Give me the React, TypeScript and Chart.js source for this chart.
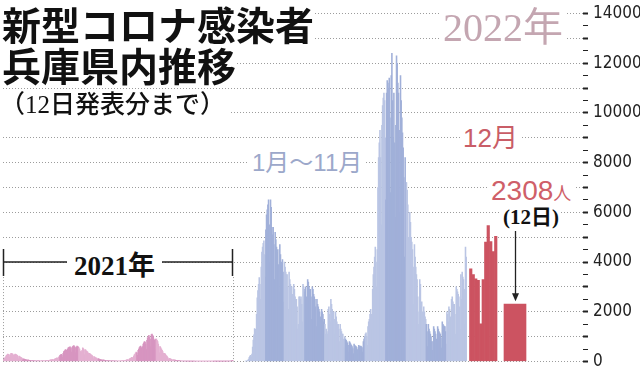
import React, { useEffect, useRef } from "react";
import { Chart, registerables } from "chart.js";

Chart.register(...registerables);

// ---- Data (daily new cases, Hyogo) ----
// 2021, one array per month (Jan..Dec)
const cases2021: number[][] = [
  [110, 150, 140, 100, 200, 250, 270, 300, 290, 280, 180, 250, 320, 330, 310, 300, 260, 150, 280, 300, 290, 270, 250, 200, 110, 220, 200, 180, 170, 150, 120],
  [60, 110, 100, 90, 80, 80, 60, 30, 70, 60, 50, 45, 45, 40, 20, 40, 35, 30, 30, 28, 25, 15, 20, 30, 30, 28, 25, 20],
  [15, 30, 35, 30, 35, 30, 25, 15, 40, 45, 50, 45, 50, 40, 30, 60, 65, 70, 70, 80, 75, 45, 90, 110, 120, 130, 150, 140, 90, 180, 200],
  [250, 270, 290, 260, 180, 330, 400, 420, 460, 480, 450, 300, 500, 550, 560, 580, 590, 520, 380, 560, 600, 620, 640, 600, 560, 360, 580, 620, 600, 580],
  [550, 500, 380, 420, 400, 450, 550, 520, 470, 280, 480, 460, 420, 400, 380, 330, 180, 330, 300, 280, 260, 240, 200, 110, 200, 180, 160, 150, 140, 110, 60],
  [120, 100, 90, 80, 80, 60, 30, 70, 60, 55, 50, 45, 40, 20, 40, 35, 30, 30, 28, 25, 12, 25, 25, 22, 20, 22, 18, 10, 22, 20],
  [18, 20, 22, 18, 10, 25, 28, 30, 35, 40, 35, 20, 45, 50, 60, 70, 80, 70, 45, 100, 120, 130, 150, 170, 160, 110, 220, 270, 300, 350, 380],
  [350, 250, 450, 500, 560, 600, 620, 560, 350, 600, 700, 750, 800, 780, 700, 480, 850, 950, 1000, 1050, 980, 900, 600, 1080, 1100, 1050, 1000, 900, 850, 500, 900],
  [900, 850, 800, 700, 600, 350, 600, 550, 500, 450, 400, 330, 180, 330, 300, 260, 230, 200, 160, 80, 120, 130, 110, 100, 90, 70, 40, 80, 70, 60],
  [55, 45, 35, 20, 40, 35, 30, 28, 25, 20, 10, 20, 18, 16, 15, 14, 10, 5, 10, 9, 8, 8, 7, 5, 3, 6, 5, 5, 4, 4, 3],
  [2, 4, 3, 3, 3, 2, 2, 1, 3, 2, 3, 2, 2, 1, 1, 2, 3, 2, 2, 1, 1, 1, 2, 2, 3, 2, 2, 1, 1, 3],
  [2, 3, 2, 2, 1, 1, 3, 2, 3, 2, 3, 2, 1, 3, 4, 3, 4, 5, 3, 2, 6, 8, 10, 12, 14, 10, 8, 20, 30, 40, 50],
];

// 2022 January..November, one array per month
const cases2022: number[][] = [
  [14, 12, 13, 30, 55, 100, 165, 220, 250, 190, 300, 580, 860, 1070, 1320, 1290, 1050, 1900, 2560, 2850, 3100, 3380, 3100, 2500, 3800, 4400, 4600, 4750, 4850, 4300, 3400],
  [5300, 5900, 6100, 6300, 6500, 5500, 4000, 6500, 6200, 5400, 5100, 5400, 4700, 3300, 5200, 4900, 4600, 4400, 4500, 3900, 2800, 4700, 4300, 3900, 4000, 4100, 3600, 2400],
  [4000, 3800, 3600, 3500, 3500, 3000, 2100, 3600, 3300, 3100, 3000, 3000, 2700, 1800, 3100, 2900, 2600, 2500, 2500, 2200, 1300, 1500, 2600, 2600, 2500, 2600, 2300, 1600, 3100, 3000, 2800],
  [2900, 3000, 2600, 1800, 3300, 3200, 3000, 2900, 2900, 2600, 1700, 3000, 2900, 2700, 2600, 2500, 2200, 1400, 2500, 2300, 2200, 2100, 2000, 1800, 1100, 2100, 2000, 1900, 1600, 1700],
  [1500, 1100, 1300, 1200, 1100, 2100, 2200, 1900, 1600, 2500, 2300, 2100, 2000, 2000, 1700, 1100, 2000, 1800, 1600, 1500, 1500, 1300, 800, 1500, 1300, 1200, 1100, 1100, 900, 550, 1000],
  [900, 850, 800, 750, 650, 380, 800, 750, 700, 650, 600, 520, 320, 700, 650, 620, 600, 560, 480, 300, 650, 620, 600, 620, 600, 560, 380, 800, 900, 1000],
  [1100, 1150, 1000, 650, 1400, 1600, 1700, 1900, 2100, 1900, 1300, 2900, 3500, 3800, 4200, 4600, 4000, 3000, 4500, 7000, 8200, 8800, 9300, 8200, 5500, 9500, 10300, 10600, 10800, 10500, 9000],
  [6500, 10800, 11300, 11200, 11000, 11400, 9800, 6800, 11500, 12400, 10500, 9000, 10800, 8800, 5800, 9500, 12300, 12000, 11200, 10800, 9300, 6000, 11500, 10500, 9800, 9200, 8600, 7400, 4200, 8200, 7200],
  [7200, 6900, 6300, 5000, 3000, 6000, 5600, 5000, 4800, 4500, 3800, 2300, 4700, 4200, 3800, 3500, 3300, 2600, 1500, 2000, 3300, 3100, 2200, 2400, 2000, 1100, 2200, 2000, 1800, 1700],
  [1500, 1200, 600, 1500, 1300, 1200, 1100, 1000, 800, 450, 800, 1400, 1300, 1200, 1100, 900, 500, 1400, 1300, 1200, 1150, 1100, 950, 550, 1600, 1500, 1450, 1400, 1400, 1200, 700],
  [2000, 1900, 1600, 2200, 2100, 1800, 900, 2500, 2600, 2400, 2300, 2300, 1900, 1100, 3000, 2900, 2800, 2700, 2600, 2200, 1300, 3500, 2500, 3600, 3400, 3300, 2900, 1500, 4600, 4200],
];

// December 2022, 1st..11th
const casesDec2022: number[] = [3730, 3500, 3330, 3270, 1520, 3300, 4800, 5470, 4820, 4420, 5040];
// December 12th (highlighted)
const casesDec12: number[] = [2308];

const yMin = 0;
const yMax = 14000;
const yStep = 500;
const yLabelStep = 2000;
const yGridStep = 1000;

// ---- Style ----
const PINK = ["#e4b0d1", "#d795c0"];
const BLUE = ["#bac5e4", "#a1b0d9"];
const RED = "#cc5361";
const GRID = "#9c9c9c";

const PLOT_LEFT = 3;
const PLOT_RIGHT = 583;

// linear-axis window so that `count` bars occupy [startPx, endPx]
function axisWindow(count: number, startPx: number, endPx: number) {
  const unit = (endPx - startPx) / count;
  const min = -0.5 - (startPx - PLOT_LEFT) / unit;
  const max = min + (PLOT_RIGHT - PLOT_LEFT) / unit;
  return { min, max, unit };
}

const win21 = axisWindow(365, 3, 233);
const win22 = axisWindow(334, 245, 466.5);
const winDec = axisWindow(11, 469.5, 497);
const winD12 = axisWindow(1, 504, 526);

const sans = '"Liberation Sans", "Noto Sans CJK JP", sans-serif';
const jp = '"Noto Sans CJK JP", sans-serif';
const serif = '"Liberation Serif", "Noto Sans CJK JP", serif';

const annotationPlugin = {
  id: "annotations",
  afterDraw(chart: any) {
    const { ctx } = chart;
    const y = chart.scales.y;
    const x21 = chart.scales.x21;
    const xd = chart.scales.xD12;
    const n21 = cases2021.flat().length;
    const left = x21.getPixelForValue(-0.5);
    const right = x21.getPixelForValue(n21 - 0.5);
    const by = y.getPixelForValue(4000);
    const base = y.getPixelForValue(0);
    ctx.save();
    // dotted year boundaries
    ctx.strokeStyle = GRID;
    ctx.lineWidth = 1;
    ctx.setLineDash([1, 2]);
    [left, right].forEach((px: number) => {
      ctx.beginPath();
      ctx.moveTo(Math.round(px) + 0.5, by + 15);
      ctx.lineTo(Math.round(px) + 0.5, base);
      ctx.stroke();
    });
    ctx.setLineDash([]);
    // bracket
    ctx.strokeStyle = "#222";
    ctx.lineWidth = 1.5;
    ctx.beginPath();
    ctx.moveTo(left, by);
    ctx.lineTo(right, by);
    ctx.moveTo(left + 0.5, by - 13);
    ctx.lineTo(left + 0.5, by + 14);
    ctx.moveTo(right - 0.5, by - 13);
    ctx.lineTo(right - 0.5, by + 14);
    ctx.stroke();
    // arrow to Dec 12 bar
    const ax = Math.round(xd.getPixelForValue(0)) + 0.5;
    const tip = y.getPixelForValue(casesDec12[0]) - 3;
    ctx.strokeStyle = "#222";
    ctx.lineWidth = 1.3;
    ctx.beginPath();
    ctx.moveTo(ax, 231);
    ctx.lineTo(ax, tip - 5);
    ctx.stroke();
    ctx.fillStyle = "#222";
    ctx.beginPath();
    ctx.moveTo(ax - 3.5, tip - 8);
    ctx.lineTo(ax + 3.5, tip - 8);
    ctx.lineTo(ax, tip);
    ctx.closePath();
    ctx.fill();
    ctx.restore();
  },
};

const box: React.CSSProperties = {
  position: "absolute",
  whiteSpace: "nowrap",
  background: "#ffffff",
};

function hiddenX(win: { min: number; max: number }) {
  return { type: "linear", display: false, offset: false, bounds: "data", min: win.min, max: win.max, grid: { display: false, offset: false } };
}

export default function App() {
  const ref = useRef<HTMLCanvasElement | null>(null);

  useEffect(() => {
    if (!ref.current) return;
    const flat21 = cases2021.flat();
    const col21 = cases2021.flatMap((m, i) => m.map(() => PINK[i % 2]));
    const flat22 = cases2022.flat();
    const col22 = cases2022.flatMap((m, i) => m.map(() => BLUE[i % 2]));

    const chart = new Chart(ref.current, {
      type: "bar",
      data: {
        datasets: [
          {
            data: flat21.map((v, i) => ({ x: i, y: v })),
            backgroundColor: col21,
            xAxisID: "x21",
            grouped: false,
            barThickness: win21.unit + 0.25,
          },
          {
            data: flat22.map((v, i) => ({ x: i, y: v })),
            backgroundColor: col22,
            xAxisID: "x22",
            grouped: false,
            barThickness: win22.unit + 0.25,
          },
          {
            data: casesDec2022.map((v, i) => ({ x: i, y: v })),
            backgroundColor: RED,
            xAxisID: "xDec",
            grouped: false,
            barThickness: winDec.unit,
          },
          {
            data: casesDec12.map((v, i) => ({ x: i, y: v })),
            backgroundColor: RED,
            xAxisID: "xD12",
            grouped: false,
            barThickness: winD12.unit,
          },
        ] as any,
      },
      options: {
        animation: false,
        responsive: false,
        devicePixelRatio: 1,
        layout: { padding: { left: PLOT_LEFT, top: 13, bottom: 9, right: 0 } },
        plugins: { legend: { display: false }, tooltip: { enabled: false } },
        scales: {
          x21: hiddenX(win21),
          x22: hiddenX(win22),
          xDec: hiddenX(winDec),
          xD12: hiddenX(winD12),
          y: {
            position: "right",
            min: yMin,
            max: yMax,
            afterFit: (s: any) => {
              s.width = 640 - PLOT_RIGHT;
            },
            border: { display: false, dash: [1, 2] },
            grid: {
              color: (c: any) => (c.tick && c.tick.value % yGridStep === 0 ? GRID : "rgba(0,0,0,0)"),
              lineWidth: 1,
              tickColor: "#222",
              tickLength: 5,
              tickWidth: (c: any) => (c.tick && c.tick.value % yGridStep === 0 ? 2 : 1),
              tickBorderDash: [],
            },
            ticks: {
              stepSize: yStep,
              autoSkip: false,
              padding: 5,
              color: "#222",
              font: { family: '"Liberation Sans Narrow", "DejaVu Sans Condensed", sans-serif', size: 17, lineHeight: 1 },
              callback: (v: any) => (Number(v) % yLabelStep === 0 ? String(v) : ""),
            },
          },
        } as any,
      },
      plugins: [annotationPlugin],
    });
    return () => chart.destroy();
  }, []);

  return (
    <div style={{ position: "absolute", left: 0, top: 0, width: 640, height: 375, background: "#ffffff", overflow: "hidden" }}>
      <canvas ref={ref} width={640} height={375} style={{ position: "absolute", left: 0, top: 0 }} />
      <div style={{ ...box, left: 2, top: 4, fontFamily: jp, fontWeight: 700, fontSize: 39, lineHeight: "39px", color: "#111" }}>
        新型コロナ感染者
      </div>
      <div style={{ ...box, left: 2, top: 44, fontFamily: jp, fontWeight: 700, fontSize: 39, lineHeight: "40px", color: "#111" }}>
        兵庫県内推移
      </div>
      <div style={{ ...box, left: 0, top: 90, fontFamily: serif, fontWeight: 500, fontSize: 25, lineHeight: "30px", color: "#111", paddingRight: 4 }}>
        （12日発表分まで）
      </div>
      <div style={{ ...box, left: 440, top: 6, fontFamily: serif, fontSize: 40, lineHeight: "44px", color: "#c4a6b1", padding: "0 3px" }}>
        2022年
      </div>
      <div style={{ ...box, left: 249, top: 148, fontFamily: sans, fontSize: 24, lineHeight: "30px", color: "#9ca8ca", padding: "0 3px" }}>
        1月～11月
      </div>
      <div style={{ ...box, left: 460, top: 122, fontFamily: sans, fontSize: 26, lineHeight: "32px", color: "#c95d67", padding: "0 3px" }}>
        12月
      </div>
      <div style={{ ...box, left: 488, top: 175, fontFamily: sans, fontSize: 28, lineHeight: "32px", color: "#cf5f69", padding: "0 3px" }}>
        2308<span style={{ fontFamily: jp, fontSize: 18 }}>人</span>
      </div>
      <div style={{ ...box, left: 501, top: 204, fontFamily: serif, fontWeight: 700, fontSize: 21, lineHeight: "26px", color: "#111", padding: "0 2px" }}>
        (12日)
      </div>
      <div style={{ ...box, left: 67, top: 250, fontFamily: serif, fontWeight: 700, fontSize: 27, lineHeight: "32px", color: "#111", padding: "0 7px" }}>
        2021年
      </div>
    </div>
  );
}
